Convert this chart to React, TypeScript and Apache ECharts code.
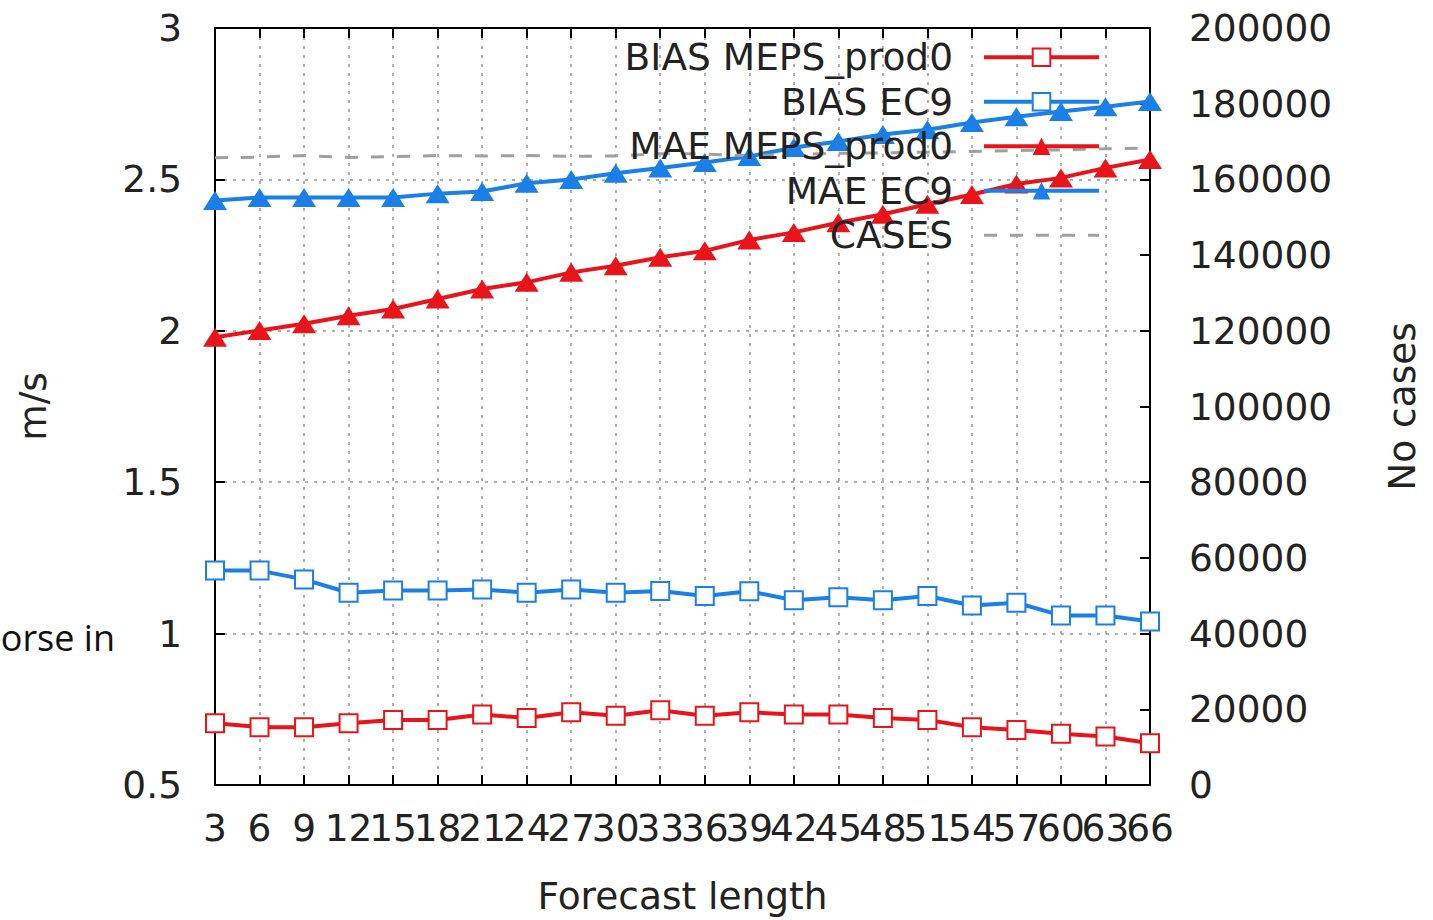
import React, { useEffect, useRef } from "react";
import * as echarts from "echarts";

const categories = ["3","6","9","12","15","18","21","24","27","30","33","36","39","42","45","48","51","54","57","60","63","66"];
const biasMeps = [0.704,0.691,0.691,0.704,0.715,0.715,0.733,0.721,0.74,0.729,0.747,0.729,0.74,0.733,0.733,0.721,0.715,0.691,0.682,0.669,0.66,0.638];
const biasEc9 = [1.208,1.208,1.179,1.135,1.142,1.142,1.146,1.135,1.146,1.135,1.141,1.124,1.14,1.11,1.12,1.11,1.124,1.093,1.102,1.06,1.06,1.04];
const maeMeps = [1.979,2.001,2.023,2.05,2.072,2.105,2.138,2.16,2.193,2.215,2.243,2.264,2.3,2.325,2.357,2.385,2.418,2.45,2.485,2.505,2.538,2.566];
const maeEc9 = [2.43,2.44,2.44,2.44,2.44,2.453,2.46,2.487,2.5,2.52,2.538,2.556,2.576,2.605,2.625,2.648,2.664,2.688,2.707,2.724,2.74,2.757];
const cases = [165700,165900,166300,165800,166000,166300,166200,166300,166100,166200,166800,166700,166200,166600,166900,167000,167200,167400,167600,167800,168100,168300];
const seriesNames = ["BIAS MEPS_prod0", "BIAS EC9", "MAE MEPS_prod0", "MAE EC9", "CASES"];

const RED = "#e8141a";
const BLUE = "#1a7fe6";
const GRAY = "#a0a0a0";
const FONT = "DejaVu Sans";

export default function App() {
  const ref = useRef<HTMLDivElement>(null);
  useEffect(() => {
    if (!ref.current) return;
    const chart = echarts.init(ref.current, undefined, { renderer: "svg" });
    const gridLine = { show: true, lineStyle: { color: "#959595", width: 1.5, type: [3, 6] as any } };
    const txt = { fontFamily: FONT, fontSize: 37.5, color: "#222" };
    chart.setOption({
      animation: false,
      backgroundColor: "#fff",
      grid: { left: 215, right: 283, top: 28, bottom: 132, containLabel: false },
      legend: {
        orient: "vertical",
        align: "right",
        right: 332,
        top: 35,
        padding: 0,
        itemWidth: 115,
        itemHeight: 22,
        itemGap: 0,
        lineStyle: { width: 4 },
        data: [
          { name: seriesNames[0] },
          { name: seriesNames[1] },
          { name: seriesNames[2] },
          { name: seriesNames[3] },
          { name: seriesNames[4], itemStyle: { opacity: 0 }, lineStyle: { width: 3 } },
        ],
        textStyle: { ...txt, lineHeight: 44.5, padding: [0, 26, 0, 0] },
      },
      xAxis: [
        {
          type: "category",
          data: categories,
          boundaryGap: false,
          position: "bottom",
          axisLine: { show: true, lineStyle: { color: "#000", width: 2 } },
          axisTick: { show: true, inside: true, length: 10, interval: 0, lineStyle: { color: "#000", width: 2 } },
          axisLabel: { ...txt, interval: 0, margin: 24 },
          splitLine: { ...gridLine, interval: 0 },
          name: "Forecast length",
          nameLocation: "middle",
          nameGap: 92,
          nameTextStyle: { ...txt },
        },
        {
          type: "category",
          data: categories,
          boundaryGap: false,
          position: "top",
          axisLine: { show: true, lineStyle: { color: "#000", width: 2 } },
          axisTick: { show: true, inside: true, length: 10, interval: 0, lineStyle: { color: "#000", width: 2 } },
          axisLabel: { show: false },
          splitLine: { show: false },
        },
      ],
      yAxis: [
        {
          type: "value",
          min: 0.5,
          max: 3,
          interval: 0.5,
          position: "left",
          axisLine: { show: true, lineStyle: { color: "#000", width: 2 } },
          axisTick: { show: true, inside: true, length: 10, lineStyle: { color: "#000", width: 2 } },
          axisLabel: { ...txt, margin: 33, formatter: (v: number) => String(v) },
          splitLine: gridLine,
          name: "m/s",
          nameLocation: "middle",
          nameRotate: 90,
          nameGap: 163,
          nameTextStyle: { ...txt },
        },
        {
          type: "value",
          min: 0,
          max: 200000,
          interval: 20000,
          position: "right",
          axisLine: { show: true, lineStyle: { color: "#000", width: 2 } },
          axisTick: { show: true, inside: true, length: 10, lineStyle: { color: "#000", width: 2 } },
          axisLabel: { ...txt, margin: 39, formatter: (v: number) => String(v) },
          splitLine: { show: false },
          name: "No cases",
          nameLocation: "middle",
          nameRotate: 90,
          nameGap: 233,
          nameTextStyle: { ...txt },
        },
      ],
      series: [
        {
          name: seriesNames[0], type: "line", data: biasMeps, yAxisIndex: 0,
          symbol: "emptyRect", symbolSize: 18, showAllSymbol: true,
          lineStyle: { color: RED, width: 4 },
          itemStyle: { color: RED, borderColor: RED, borderWidth: 3 },
        },
        {
          name: seriesNames[1], type: "line", data: biasEc9, yAxisIndex: 0,
          symbol: "emptyRect", symbolSize: 18, showAllSymbol: true,
          lineStyle: { color: BLUE, width: 4 },
          itemStyle: { color: BLUE, borderColor: BLUE, borderWidth: 3 },
        },
        {
          name: seriesNames[2], type: "line", data: maeMeps, yAxisIndex: 0,
          symbol: "triangle", symbolSize: [24, 19], showAllSymbol: true,
          lineStyle: { color: RED, width: 4 },
          itemStyle: { color: RED },
        },
        {
          name: seriesNames[3], type: "line", data: maeEc9, yAxisIndex: 0,
          symbol: "triangle", symbolSize: [24, 19], showAllSymbol: true,
          lineStyle: { color: BLUE, width: 4 },
          itemStyle: { color: BLUE },
        },
        {
          name: seriesNames[4], type: "line", data: cases, yAxisIndex: 1,
          symbol: "none",
          lineStyle: { color: GRAY, width: 3, type: [13, 13] as any },
          itemStyle: { color: GRAY },
        },
      ],
      graphic: [
        {
          type: "text",
          x: 115,
          y: 637,
          style: {
            text: "orse in", fontFamily: "Open Sans", fontSize: 36, fill: "#111",
            textAlign: "right", textVerticalAlign: "middle",
          },
        },
      ],
    });
    return () => chart.dispose();
  }, []);
  return (
    <div
      ref={ref}
      style={{ position: "fixed", left: 0, top: 0, width: 1433, height: 920, background: "#fff" }}
    />
  );
}
